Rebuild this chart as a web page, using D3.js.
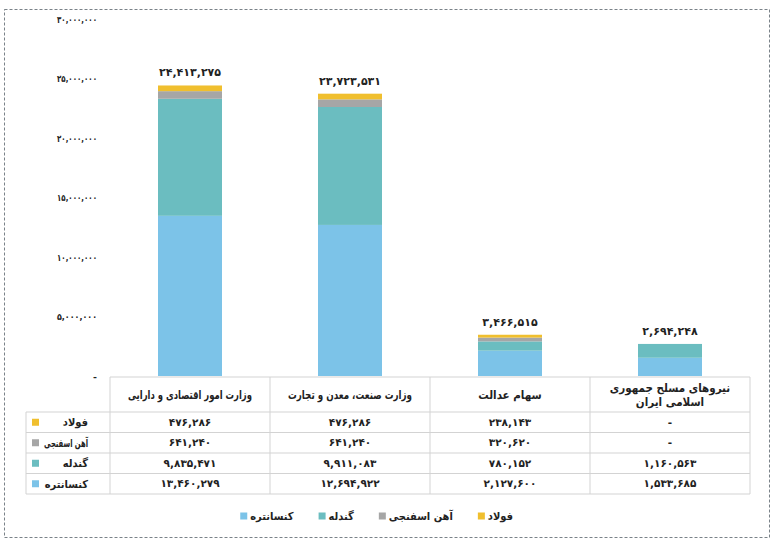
<!DOCTYPE html>
<html>
<head>
<meta charset="utf-8">
<script src="https://cdn.jsdelivr.net/npm/d3@7"></script>
<style>
  body { margin: 0; background: #fff; }
  text { font-family: "DejaVu Sans", sans-serif; font-weight: bold; fill: #222; }
  .lbl { font-family: "DejaVu Sans Condensed", "DejaVu Sans", sans-serif; font-stretch: condensed; }
</style>
</head>
<body>
<div id="chart"></div>
<script>
// data
var categories = ["وزارت امور اقتصادی و دارایی", "وزارت صنعت، معدن و تجارت", "سهام عدالت", "نیروهای مسلح جمهوری اسلامی ایران"];
var headerLines = [["وزارت امور اقتصادی و دارایی"], ["وزارت صنعت، معدن و تجارت"], ["سهام عدالت"], ["نیروهای مسلح جمهوری", "اسلامی ایران"]];
var seriesNames = ["کنسانتره", "گندله", "آهن اسفنجی", "فولاد"];
var concentrate = [13460279, 12694922, 2127600, 1533685];
var pellet = [9835471, 9911083, 780152, 1160563];
var spongeIron = [641240, 641240, 320620, 0];
var steel = [476286, 476286, 238143, 0];
var totals = [24413275, 23723531, 3466515, 2694248];
var yTicks = [0, 5000000, 10000000, 15000000, 20000000, 25000000, 30000000];
var colors = ["#7cc3e8", "#6bbdc0", "#a6a6a6", "#f0bf2e"];

var values = [concentrate, pellet, spongeIron, steel];

var W = 781, H = 544;
var svg = d3.select("#chart").append("svg").attr("width", W).attr("height", H);

// dashed frame
svg.append("rect").attr("x", 4.5).attr("y", 9.5).attr("width", 765).attr("height", 528)
    .attr("fill", "none").attr("stroke", "#7a8288").attr("stroke-dasharray", "3,2");

var persian = "۰۱۲۳۴۵۶۷۸۹";
function fa(n) {
    if (n === 0) return "-";
    return d3.format(",")(n).replace(/[0-9]/g, function (c) { return persian[+c]; });
}

// squeeze a text node horizontally to a max width
function fit(sel, maxW) {
    sel.each(function () {
        var w = this.getComputedTextLength();
        if (w > maxW) d3.select(this).attr("textLength", maxW).attr("lengthAdjust", "spacingAndGlyphs");
    });
}

var y = d3.scaleLinear().domain([0, 30000000]).range([376, 19]);
var col = d3.scaleBand().domain(categories).range([110, 750]);
var x = d3.scaleBand().domain(categories).range([110, 750]).paddingInner(0.6).paddingOuter(0.3);

// y axis
var yAxis = svg.append("g").attr("transform", "translate(99,0)")
    .call(d3.axisLeft(y).tickValues(yTicks).tickFormat(fa).tickSize(0).tickPadding(2));
yAxis.select(".domain").remove();
yAxis.selectAll("text").style("font-family", "'DejaVu Sans'")
    .style("font-weight", "bold").style("font-size", "9.5px").attr("fill", "#333")
    .call(fit, 40);

// stacked bars
var rows = categories.map(function (c, i) {
    var r = { cat: c };
    seriesNames.forEach(function (s, j) { r[s] = values[j][i]; });
    return r;
});
var stack = d3.stack().keys(seriesNames)(rows);
svg.append("g").selectAll("g").data(stack).join("g")
    .attr("fill", function (d, i) { return colors[i]; })
    .selectAll("rect").data(function (d) { return d; }).join("rect")
    .attr("x", function (d) { return x(d.data.cat); })
    .attr("width", x.bandwidth())
    .attr("y", function (d) { return y(d[1]); })
    .attr("height", function (d) { return y(d[0]) - y(d[1]); });

// totals
svg.append("g").selectAll("text").data(categories).join("text")
    .attr("x", function (d) { return x(d) + x.bandwidth() / 2; })
    .attr("y", function (d, i) { return y(totals[i]) - 9; })
    .attr("text-anchor", "middle").style("font-size", "11px")
    .text(function (d, i) { return fa(totals[i]); });

// data table
var table = svg.append("g");
var lineColor = "#d3d3d3";
var headTop = 377, rowTops = [412, 432.5, 453, 473.5, 494];
var rowOrder = [3, 2, 1, 0];

table.append("line").attr("x1", 110).attr("x2", 750).attr("y1", headTop).attr("y2", headTop)
    .attr("stroke", lineColor);
table.selectAll(".hl").data(rowTops).join("line")
    .attr("x1", 26).attr("x2", 750)
    .attr("y1", function (d) { return d; }).attr("y2", function (d) { return d; })
    .attr("stroke", lineColor);
var colEdges = categories.map(function (c) { return col(c); }).concat([750]);
table.selectAll(".vl").data(colEdges).join("line")
    .attr("x1", function (d) { return d; }).attr("x2", function (d) { return d; })
    .attr("y1", headTop).attr("y2", rowTops[4])
    .attr("stroke", lineColor);
table.append("line").attr("x1", 26).attr("x2", 26).attr("y1", rowTops[0]).attr("y2", rowTops[4])
    .attr("stroke", lineColor);

// header cells
categories.forEach(function (c, i) {
    var lines = headerLines[i];
    var cy = (headTop + rowTops[0]) / 2;
    lines.forEach(function (l, k) {
        table.append("text").attr("class", "lbl")
            .attr("x", col(c) + col.bandwidth() / 2)
            .attr("y", cy + 4 + (k - (lines.length - 1) / 2) * 14)
            .attr("text-anchor", "middle").attr("direction", "rtl")
            .style("font-size", "11.5px").text(l)
            .call(fit, 124);
    });
});

// row labels + values
rowOrder.forEach(function (s, r) {
    var cy = (rowTops[r] + rowTops[r + 1]) / 2;
    table.append("rect").attr("x", 32).attr("y", cy - 3.5).attr("width", 7).attr("height", 7)
        .attr("fill", colors[s]);
    table.append("text").attr("class", "lbl").attr("x", 88).attr("y", cy + 4)
        .attr("text-anchor", "start").attr("direction", "rtl")
        .style("font-size", "11px").text(seriesNames[s])
        .call(fit, 44);
    categories.forEach(function (c, i) {
        table.append("text")
            .attr("x", col(c) + col.bandwidth() / 2).attr("y", cy + 3.5)
            .attr("text-anchor", "middle").style("font-size", "10.5px")
            .text(fa(values[s][i]));
    });
});

// legend, laid out right to left
var legend = svg.append("g");
var cursor = 513, ly = 516;
[3, 2, 1, 0].forEach(function (s) {
    var t = legend.append("text").attr("class", "lbl").attr("x", cursor).attr("y", ly + 4)
        .attr("text-anchor", "start").attr("direction", "rtl")
        .style("font-size", "11px").text(seriesNames[s]);
    var w = t.node().getComputedTextLength();
    legend.append("rect").attr("x", cursor - w - 10).attr("y", ly - 3.5)
        .attr("width", 7).attr("height", 7).attr("fill", colors[s]);
    cursor = cursor - w - 10 - 25;
});
</script>
</body>
</html>
